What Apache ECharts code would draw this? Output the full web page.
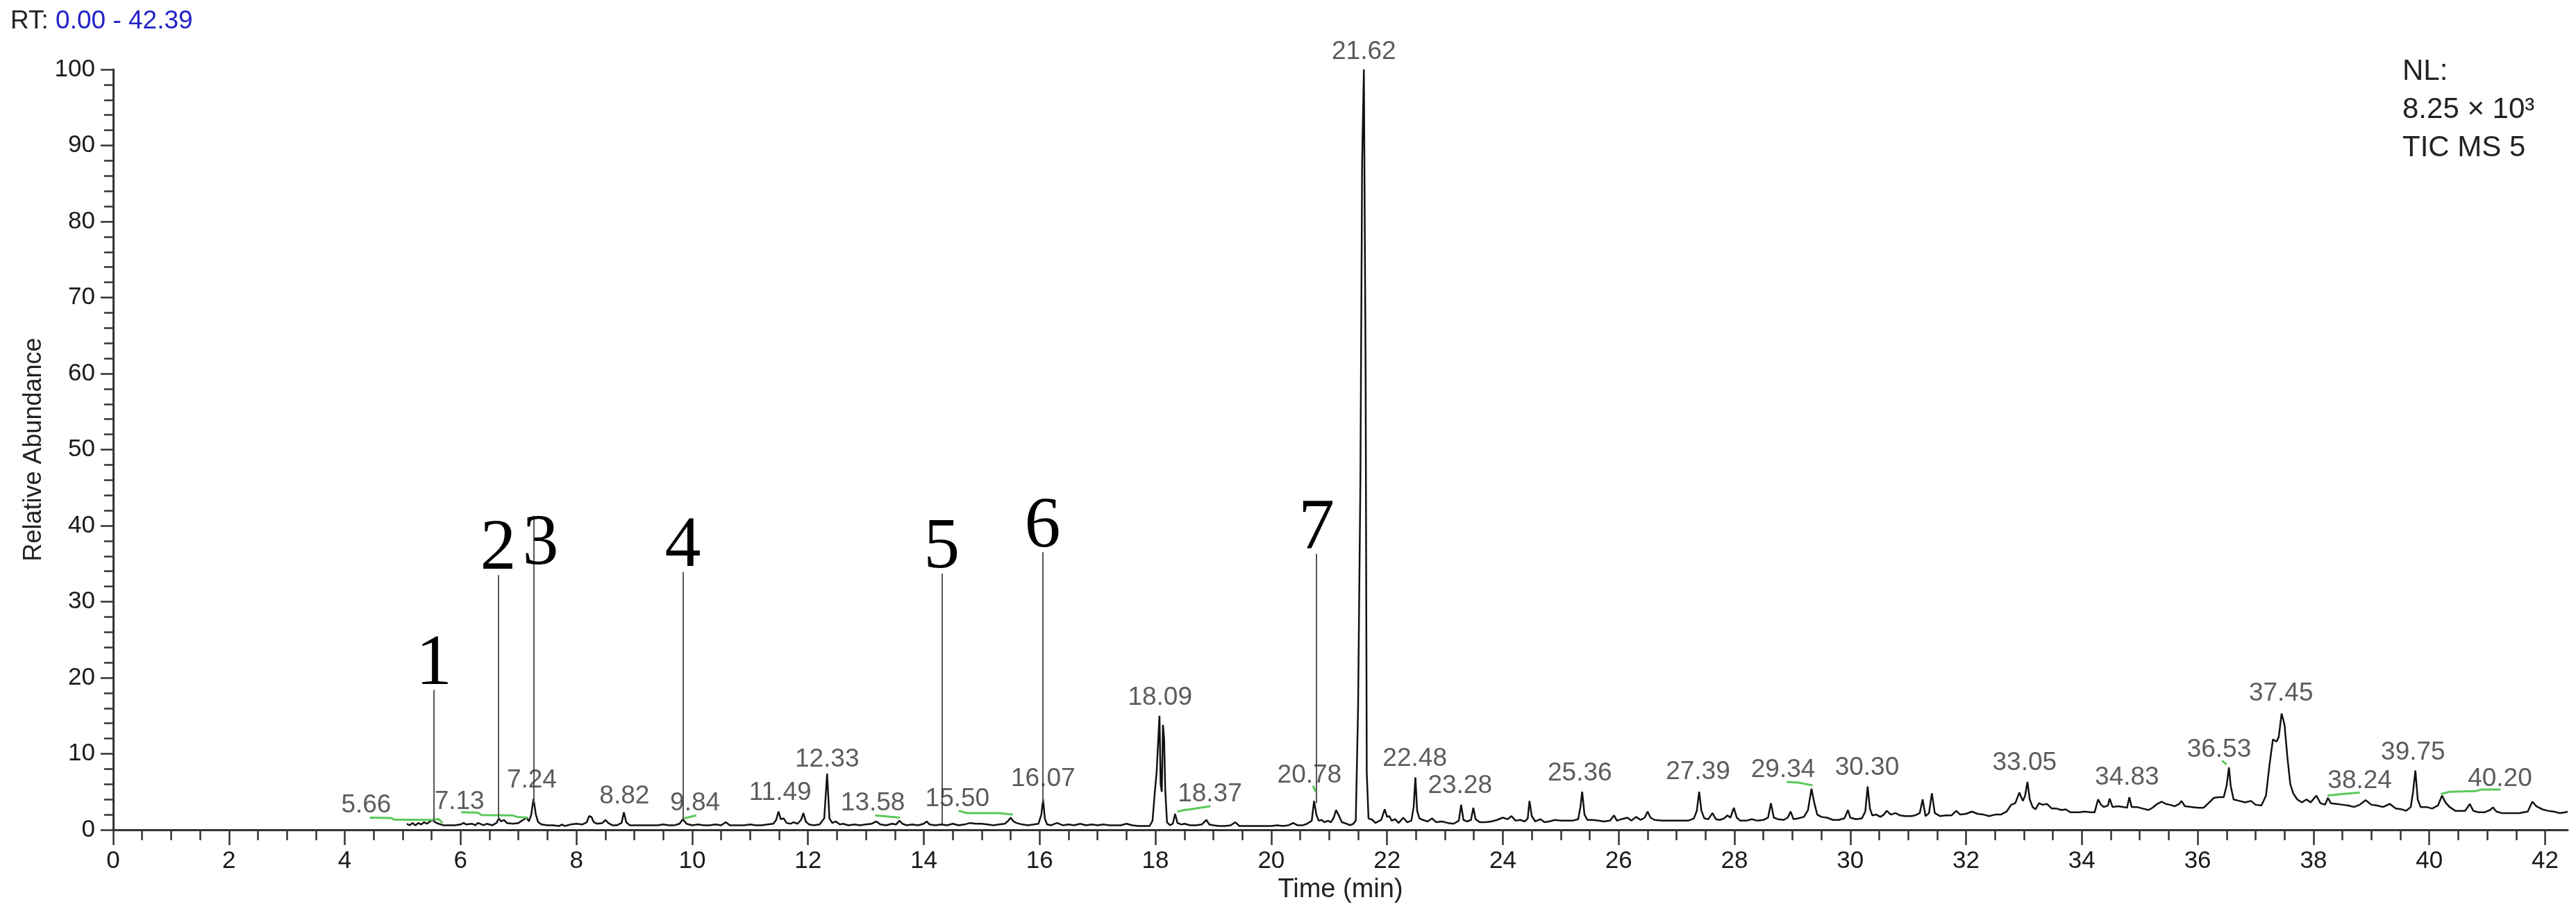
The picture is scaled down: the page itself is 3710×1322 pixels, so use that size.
<!DOCTYPE html>
<html>
<head>
<meta charset="utf-8">
<title>TIC chromatogram</title>
<script src="https://cdn.jsdelivr.net/npm/echarts@6.0.0/dist/echarts.min.js"></script>
<style>
  html, body { margin: 0; padding: 0; background: #fff; }
  #main { width: 3710px; height: 1322px; }
</style>
</head>
<body>
<div id="main"></div>
<script>
// [retention time (min), relative abundance (%)]
const trace = [
  [5.07,0.8],[5.12,0.6],[5.17,0.9],[5.22,0.6],[5.27,0.9],[5.32,0.7],[5.37,1.0],[5.42,0.8],[5.47,1.1],[5.52,1.3],
  [5.56,1.0],[5.62,0.8],[5.70,0.6],[5.80,0.6],[5.90,0.6],[6.00,0.7],[6.05,0.9],[6.10,0.7],[6.20,0.8],[6.25,0.6],
  [6.30,0.9],[6.40,0.6],[6.45,0.8],[6.55,0.6],[6.62,0.9],[6.66,1.5],[6.70,1.1],[6.75,1.3],[6.80,0.9],[6.90,0.8],
  [7.00,0.9],[7.08,1.3],[7.14,1.6],[7.18,1.1],[7.22,2.0],[7.26,4.1],[7.30,2.0],[7.34,1.0],[7.40,0.7],[7.50,0.6],
  [7.60,0.6],[7.70,0.5],[7.75,0.7],[7.80,0.5],[7.90,0.7],[8.00,0.8],[8.10,0.7],[8.18,1.0],[8.22,1.8],[8.26,1.7],
  [8.30,1.0],[8.36,0.8],[8.45,0.9],[8.50,1.3],[8.55,0.9],[8.62,0.6],[8.70,0.6],[8.78,0.9],[8.82,2.3],[8.86,1.0],
  [8.92,0.6],[9.00,0.6],[9.10,0.6],[9.20,0.6],[9.30,0.6],[9.40,0.6],[9.50,0.7],[9.60,0.6],[9.70,0.6],[9.78,0.8],
  [9.84,1.4],[9.90,0.8],[10.00,0.6],[10.10,0.7],[10.20,0.6],[10.30,0.6],[10.40,0.7],[10.50,0.6],[10.58,1.0],[10.65,0.6],
  [10.80,0.6],[10.90,0.6],[11.00,0.7],[11.10,0.6],[11.20,0.6],[11.30,0.7],[11.40,0.8],[11.45,1.3],[11.49,2.4],[11.53,1.4],
  [11.58,1.5],[11.63,0.9],[11.70,0.8],[11.75,1.0],[11.82,0.8],[11.88,1.3],[11.92,2.2],[11.96,1.1],[12.02,0.7],[12.10,0.6],
  [12.20,0.7],[12.28,1.5],[12.33,7.4],[12.37,1.5],[12.42,0.9],[12.48,1.1],[12.55,0.7],[12.60,0.8],[12.70,0.6],[12.80,0.7],
  [12.90,0.6],[13.00,0.7],[13.10,0.8],[13.18,1.1],[13.25,0.7],[13.35,0.6],[13.45,0.8],[13.52,0.7],[13.58,1.2],[13.63,0.8],
  [13.70,0.6],[13.80,0.7],[13.90,0.6],[14.00,0.8],[14.05,1.1],[14.10,0.7],[14.20,0.6],[14.30,0.7],[14.40,0.6],[14.50,0.8],
  [14.60,0.6],[14.70,0.7],[14.80,0.9],[14.90,0.8],[15.00,0.8],[15.10,0.7],[15.20,0.6],[15.30,0.7],[15.40,0.8],[15.46,1.2],
  [15.50,1.6],[15.55,1.1],[15.60,0.9],[15.70,0.7],[15.80,0.6],[15.90,0.7],[15.98,0.8],[16.03,2.0],[16.06,4.0],[16.09,1.5],
  [16.13,0.7],[16.20,0.6],[16.30,0.9],[16.40,0.6],[16.50,0.7],[16.60,0.6],[16.70,0.8],[16.80,0.6],[16.90,0.7],[17.00,0.6],
  [17.10,0.7],[17.20,0.6],[17.30,0.6],[17.40,0.6],[17.50,0.8],[17.60,0.6],[17.70,0.5],[17.80,0.5],[17.90,0.5],[17.95,1.2],
  [17.99,5.0],[18.02,7.5],[18.05,12.0],[18.07,15.0],[18.09,6.0],[18.11,5.0],[18.13,13.8],[18.15,12.0],[18.17,5.2],[18.20,1.0],
  [18.25,0.6],[18.30,0.8],[18.34,2.1],[18.38,0.9],[18.45,0.7],[18.50,0.8],[18.60,0.6],[18.70,0.6],[18.80,0.7],[18.88,1.3],
  [18.93,0.7],[19.00,0.6],[19.10,0.5],[19.20,0.5],[19.30,0.6],[19.38,1.0],[19.45,0.5],[19.60,0.5],[19.80,0.5],[20.00,0.5],
  [20.10,0.6],[20.20,0.5],[20.30,0.6],[20.38,0.9],[20.45,0.6],[20.55,0.6],[20.62,0.8],[20.70,1.2],[20.74,3.8],[20.78,2.0],
  [20.82,1.2],[20.87,1.3],[20.92,1.0],[20.98,1.2],[21.03,1.0],[21.08,1.6],[21.12,2.6],[21.16,2.0],[21.22,1.0],[21.30,0.8],
  [21.36,0.6],[21.42,0.8],[21.46,1.2],[21.50,16],[21.54,46],[21.57,88],[21.60,100],[21.63,60],[21.65,7.5],[21.68,1.5],
  [21.75,1.3],[21.80,0.9],[21.85,1.1],[21.90,1.3],[21.96,2.7],[22.00,1.7],[22.04,1.8],[22.08,1.2],[22.14,1.4],[22.20,0.9],
  [22.28,1.6],[22.35,1.0],[22.42,1.2],[22.46,3.0],[22.49,6.9],[22.52,2.5],[22.56,1.5],[22.62,1.3],[22.70,1.1],[22.78,1.5],
  [22.85,1.0],[22.95,1.1],[23.05,0.9],[23.15,0.8],[23.24,1.2],[23.28,3.3],[23.32,1.3],[23.38,1.1],[23.45,1.3],[23.49,2.9],
  [23.53,1.4],[23.60,1.0],[23.70,1.0],[23.80,1.1],[23.90,1.3],[24.00,1.6],[24.08,1.4],[24.15,1.8],[24.22,1.2],[24.30,1.3],
  [24.38,1.1],[24.43,1.5],[24.46,3.8],[24.50,1.8],[24.56,1.1],[24.65,1.4],[24.72,1.0],[24.80,1.1],[24.90,1.3],[25.00,1.2],
  [25.10,1.2],[25.20,1.2],[25.30,1.4],[25.34,3.0],[25.37,5.0],[25.41,2.0],[25.46,1.3],[25.55,1.3],[25.65,1.2],[25.75,1.1],
  [25.85,1.2],[25.92,1.9],[25.97,1.2],[26.05,1.4],[26.15,1.6],[26.22,1.2],[26.30,1.7],[26.38,1.3],[26.45,1.6],[26.50,2.4],
  [26.55,1.6],[26.62,1.3],[26.75,1.2],[26.90,1.2],[27.00,1.2],[27.10,1.2],[27.20,1.2],[27.30,1.5],[27.35,2.5],[27.39,5.0],
  [27.43,2.5],[27.48,1.5],[27.55,1.4],[27.62,2.2],[27.68,1.4],[27.75,1.3],[27.82,1.5],[27.88,1.9],[27.93,1.6],[27.99,2.9],
  [28.04,1.6],[28.10,1.2],[28.20,1.2],[28.30,1.4],[28.40,1.2],[28.50,1.3],[28.58,1.6],[28.63,3.5],[28.68,1.6],[28.75,1.4],
  [28.85,1.3],[28.92,1.6],[28.97,2.4],[29.02,1.4],[29.10,1.5],[29.20,1.7],[29.27,2.6],[29.33,5.4],[29.38,3.5],[29.43,2.0],
  [29.50,1.7],[29.60,1.6],[29.70,1.3],[29.80,1.3],[29.90,1.5],[29.96,2.6],[30.00,1.6],[30.10,1.4],[30.20,1.5],[30.26,2.4],
  [30.30,5.7],[30.34,2.8],[30.38,1.9],[30.45,2.0],[30.52,1.7],[30.58,2.0],[30.63,2.5],[30.70,2.0],[30.78,2.2],[30.86,1.9],
  [30.95,1.8],[31.05,1.8],[31.12,1.9],[31.20,2.2],[31.25,4.0],[31.30,1.8],[31.36,2.2],[31.41,4.8],[31.46,2.2],[31.55,1.8],
  [31.65,1.9],[31.75,1.9],[31.83,2.5],[31.90,2.0],[32.00,2.1],[32.10,2.4],[32.20,2.1],[32.30,2.0],[32.40,1.8],[32.50,2.0],
  [32.60,2.0],[32.70,2.4],[32.78,3.3],[32.85,3.5],[32.92,4.9],[32.98,3.8],[33.02,4.5],[33.06,6.3],[33.10,4.0],[33.15,3.0],
  [33.20,2.7],[33.26,3.5],[33.32,3.3],[33.40,3.4],[33.48,2.8],[33.56,2.8],[33.65,2.6],[33.72,2.7],[33.80,2.3],[33.88,2.3],
  [33.95,2.3],[34.05,2.4],[34.15,2.3],[34.22,2.3],[34.28,4.0],[34.33,3.3],[34.38,3.0],[34.45,3.2],[34.48,4.1],[34.53,3.0],
  [34.62,3.1],[34.72,3.0],[34.78,2.9],[34.82,4.3],[34.86,3.0],[34.95,3.0],[35.05,2.8],[35.15,2.6],[35.22,2.9],[35.30,3.4],
  [35.38,3.7],[35.45,3.4],[35.52,3.3],[35.60,3.1],[35.68,3.4],[35.72,3.8],[35.78,3.1],[35.90,3.0],[36.00,2.9],[36.10,2.9],
  [36.20,3.6],[36.28,4.2],[36.36,4.3],[36.45,4.3],[36.50,5.8],[36.54,8.2],[36.57,5.8],[36.62,4.0],[36.72,3.8],[36.82,3.6],
  [36.92,3.8],[37.00,3.3],[37.10,3.2],[37.18,4.5],[37.24,8.5],[37.30,11.9],[37.36,11.6],[37.40,12.2],[37.45,15.3],[37.50,13.8],
  [37.55,9.5],[37.60,6.0],[37.65,4.8],[37.72,4.0],[37.80,3.6],[37.88,4.0],[37.95,3.6],[38.05,4.5],[38.12,3.5],[38.20,3.3],
  [38.25,4.2],[38.30,3.5],[38.40,3.4],[38.50,3.3],[38.60,3.2],[38.70,3.0],[38.80,3.3],[38.90,3.9],[39.00,3.3],[39.10,3.2],
  [39.20,3.0],[39.32,3.4],[39.42,2.8],[39.52,2.7],[39.60,2.5],[39.68,3.0],[39.72,5.0],[39.76,7.8],[39.80,4.0],[39.85,3.0],
  [39.95,3.0],[40.05,2.8],[40.15,3.2],[40.22,4.5],[40.28,3.6],[40.35,3.0],[40.45,2.5],[40.55,2.5],[40.62,2.5],[40.70,3.4],
  [40.76,2.5],[40.85,2.3],[40.95,2.3],[41.05,2.6],[41.10,2.95],[41.16,2.4],[41.25,2.2],[41.40,2.2],[41.55,2.2],[41.70,2.4],
  [41.78,3.7],[41.85,3.1],[41.95,2.7],[42.05,2.5],[42.15,2.4],[42.25,2.2],[42.35,2.3],[42.39,2.4]
];

// peak RT labels and the point (bottom centre of the text) where each one sits
const peakText = ['5.66','7.13','7.24','8.82','9.84','11.49','12.33','13.58','15.50','16.07','18.09','18.37','20.78','21.62',
  '22.48','23.28','25.36','27.39','29.34','30.30','33.05','34.83','36.53','37.45','38.24','39.75','40.20'];
const peakAnchor = [[4.37,1.9],[5.98,2.4],[7.23,5.2],[8.83,3.1],[10.05,2.2],[11.52,3.6],[12.33,8.0],[13.12,2.2],[14.58,2.8],
  [16.06,5.4],[18.08,16.1],[18.94,3.4],[20.66,5.9],[21.60,101],[22.48,8.1],[23.26,4.5],[25.33,6.1],[27.37,6.3],[28.84,6.6],
  [30.29,6.9],[33.01,7.5],[34.78,5.6],[36.37,9.2],[37.44,16.6],[38.80,5.1],[39.72,8.9],[41.22,5.4]];

// numbered compound markers: time, bottom and top of the drop line
const markerNames = ['1','2','3','4','5','6','7'];
const markerTimes = [5.54, 6.65, 7.26, 9.84, 14.31, 16.05, 20.78];
const markerFrom = [1.2, 1.4, 3.5, 1.4, 0.8, 3.5, 3.5];
const markerTo = [18.4, 33.5, 41.3, 33.9, 33.7, 36.5, 36.3];

// green integration baselines
const baselineSegs = [
  [[4.43,1.6],[4.80,1.55],[4.85,1.35],[5.50,1.3],[5.62,1.4],[5.69,0.9]],
  [[6.01,2.3],[6.30,2.25],[6.36,1.95],[6.90,1.9],[6.97,1.7],[7.16,1.6]],
  [[9.86,1.5],[10.07,1.9]],
  [[13.16,1.9],[13.30,1.8],[13.59,1.6]],
  [[14.60,2.5],[14.75,2.2],[15.30,2.2],[15.54,2.0]],
  [[18.38,2.4],[18.50,2.6],[18.60,2.7],[18.95,3.1]],
  [[20.72,5.8],[20.77,5.0]],
  [[28.90,6.3],[29.10,6.2],[29.35,5.85]],
  [[36.42,9.1],[36.50,8.6]],
  [[38.24,4.5],[38.50,4.7],[38.80,4.9]],
  [[40.20,4.7],[40.35,5.0],[40.80,5.1],[40.90,5.3],[41.23,5.3]]
];

const xMajorTicks = [0,2,4,6,8,10,12,14,16,18,20,22,24,26,28,30,32,34,36,38,40,42];
const xMinorTicks = [];
for (let i = 1; i <= 84; i++) {
  if (i % 4 !== 0) xMinorTicks.push(i / 2);
}

const nlLines = ['NL:', '8.25 × 10³', 'TIC MS 5'];

const sans = '"Liberation Sans", Arial, sans-serif';
const serif = '"Liberation Serif", "Times New Roman", serif';
const ink = '#333';

const chart = echarts.init(document.getElementById('main'));
chart.setOption({
  animation: false,
  backgroundColor: '#fff',
  title: [
    {
      text: '{k|RT:} {v|0.00 - 42.39}',
      left: 15, top: 12, padding: 0,
      textStyle: {
        fontSize: 37, fontFamily: sans, fontWeight: 'normal',
        rich: {
          k: {fontSize: 37, color: '#222', fontFamily: sans, fontWeight: 'normal'},
          v: {fontSize: 37, color: '#2323c8', fontFamily: sans, fontWeight: 'normal'}
        }
      }
    },
    {
      text: nlLines.join('\n'),
      left: 3460, top: 76, padding: 0,
      textStyle: {fontSize: 42, lineHeight: 55, fontWeight: 'normal', color: '#222', fontFamily: sans}
    }
  ],
  grid: {left: 163, right: 12, top: 100, bottom: 127},
  xAxis: [
    {
      type: 'value', min: 0, max: 42.39, position: 'bottom',
      name: 'Time (min)', nameLocation: 'middle', nameGap: 64,
      nameTextStyle: {fontSize: 38, color: '#222', fontFamily: sans},
      axisLine: {lineStyle: {color: ink, width: 3}},
      axisTick: {customValues: xMajorTicks, length: 22, lineStyle: {color: ink, width: 2.5}},
      axisLabel: {customValues: xMajorTicks, fontSize: 35, margin: 28, color: '#1a1a1a', fontFamily: sans},
      splitLine: {show: false}
    },
    {
      type: 'value', min: 0, max: 42.39, position: 'bottom',
      axisLine: {show: false},
      axisLabel: {show: false},
      axisTick: {customValues: xMinorTicks, length: 15, lineStyle: {color: ink, width: 2.5}},
      splitLine: {show: false}
    }
  ],
  yAxis: {
    type: 'value', min: 0, max: 100, interval: 10,
    name: 'Relative Abundance', nameLocation: 'middle', nameGap: 96,
    nameTextStyle: {fontSize: 36, color: '#222', fontFamily: sans},
    axisLine: {show: true, lineStyle: {color: ink, width: 3}},
    axisTick: {show: true, length: 18, lineStyle: {color: ink, width: 2.5}},
    minorTick: {show: true, splitNumber: 5, length: 13, lineStyle: {color: ink, width: 2.5}},
    axisLabel: {fontSize: 35, margin: 26, color: '#1a1a1a', fontFamily: sans},
    splitLine: {show: false}
  },
  series: [
    {
      type: 'line',
      name: 'TIC',
      data: trace,
      symbol: 'none',
      lineStyle: {color: '#111', width: 2.5},
      z: 3,
      markLine: {
        silent: true,
        symbol: ['none', 'none'],
        lineStyle: {color: '#555', width: 2, type: 'solid'},
        label: {show: true, position: 'end', formatter: '{b}', fontFamily: serif, fontSize: 104, color: '#000', distance: -16},
        data: markerNames.map((n, i) => [
          {name: n, coord: [markerTimes[i], markerFrom[i]]},
          {name: n, coord: [markerTimes[i], markerTo[i]],
            label: n === '3' ? {offset: [10, 78]} : undefined}
        ])
      }
    },
    {
      type: 'lines',
      coordinateSystem: 'cartesian2d',
      polyline: true,
      silent: true,
      lineStyle: {color: '#5cc85c', width: 3, opacity: 1},
      data: baselineSegs.map(c => ({coords: c})),
      z: 4
    },
    {
      type: 'scatter',
      data: peakAnchor.map((p, i) => ({name: peakText[i], value: p})),
      symbolSize: 1,
      itemStyle: {color: 'rgba(0,0,0,0)'},
      clip: false,
      silent: true,
      label: {show: true, position: 'top', distance: -5, formatter: '{b}', fontSize: 37, color: ink, fontFamily: sans},
      z: 5
    }
  ]
});
</script>
</body>
</html>
